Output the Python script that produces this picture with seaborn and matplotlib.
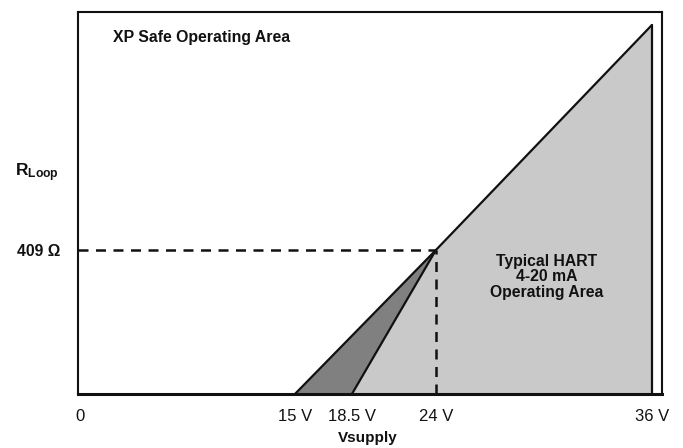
import numpy as np
import matplotlib
matplotlib.use("Agg")
import matplotlib.pyplot as plt
import seaborn as sns

# Supply voltages marked on the axis and their labels
volt_ticks = [0, 15, 18.5, 24, 36]
volt_labels = ["0", "15 V", "18.5 V", "24 V", "36 V"]

# Loop resistance at the 24 V operating point
r_point = 409
r_label = "409 Ω"

# Outer boundary of the XP safe operating area
xp_edge_v = [15, 24, 36]
xp_edge_r = [0, 409, 1048]

# Typical HART 4-20 mA operating area (light region)
hart_v = [18.5, 24, 36, 36]
hart_r = [0, 409, 1048, 0]

# Narrow wedge between 15 V and 18.5 V (dark region)
wedge_v = [15, 18.5, 24]
wedge_r = [0, 0, 409]

# Minimum-voltage edge of the HART area
hart_edge_v = [18.5, 24]
hart_edge_r = [0, 409]

# Closing edge at 36 V
max_edge_v = [36, 36]
max_edge_r = [1048, 0]

sns.set_style("white")
plt.rcParams["font.family"] = ["Liberation Sans", "DejaVu Sans"]
plt.rcParams["mathtext.fontset"] = "custom"
plt.rcParams["mathtext.rm"] = "Liberation Sans"
plt.rcParams["mathtext.bf"] = "Liberation Sans:bold"

# Schematic (non-uniform) voltage axis
V_KNOTS = [-20, 0, 15, 18.5, 24, 36, 60]
U_KNOTS = [-200, 80, 295, 352, 436, 652, 1084]


def v_forward(v):
    return np.interp(v, V_KNOTS, U_KNOTS)


def v_inverse(u):
    return np.interp(u, U_KNOTS, V_KNOTS)


fig = plt.figure(figsize=(6.83, 4.48), dpi=100)
ax = fig.add_axes([0.1142, 0.1205, 0.855, 0.8527])
ax.set_xscale("function", functions=(v_forward, v_inverse))
ax.set_xlim(-0.14, 36.56)
ax.set_ylim(0, 1085)

light = "#c9c9c9"
dark = "#808080"
ink = "#111111"

ax.fill(hart_v, hart_r, color=light, lw=0, zorder=1)
ax.fill(wedge_v, wedge_r, color=dark, lw=0, zorder=1)

for xs, ys in [(xp_edge_v, xp_edge_r), (hart_edge_v, hart_edge_r), (max_edge_v, max_edge_r)]:
    sns.lineplot(x=xs, y=ys, ax=ax, color=ink, lw=1.6, sort=False,
                 estimator=None, zorder=3)

# Dashed guides to the 24 V / 409 Ω point
ax.plot([-0.14, 24], [r_point, r_point], color=ink, lw=1.8, ls=(0, (4, 3)), zorder=2)
ax.plot([24, 24], [0, r_point], color=ink, lw=1.8, ls=(0, (4, 3)), zorder=2)

for side in ["left", "right", "top", "bottom"]:
    ax.spines[side].set_visible(True)
    ax.spines[side].set_color(ink)
    ax.spines[side].set_linewidth(1.5)
ax.spines["bottom"].set_linewidth(2.2)
ax.spines["bottom"].set_zorder(4)

ax.set_xticks(volt_ticks)
ax.set_xticklabels(volt_labels, fontsize=12)
ax.set_yticks([r_point])
ax.set_yticklabels([r_label], fontsize=11.3, fontweight="bold")
ax.tick_params(axis="x", length=0, pad=11, colors=ink)
ax.tick_params(axis="y", length=0, pad=13, colors=ink)
ax.grid(False)

ax.text(0.497, -0.115, "Vsupply", transform=ax.transAxes, ha="center", va="center",
        fontsize=11, fontweight="bold", color=ink)
ax.text(-0.108, 0.58, r"$\mathbf{R_{Loop}}$", transform=ax.transAxes, ha="left",
        va="center", fontsize=12.5, color=ink)
ax.text(0.06, 0.932, "XP Safe Operating Area", transform=ax.transAxes, ha="left",
        va="center", fontsize=11.4, fontweight="bold", color=ink)
ax.text(0.803, 0.307, "Typical HART\n4-20 mA\nOperating Area", transform=ax.transAxes,
        ha="center", va="center", fontsize=11.3, fontweight="bold", color=ink,
        linespacing=1.05, zorder=5)

fig.savefig("out.png", dpi=100)
